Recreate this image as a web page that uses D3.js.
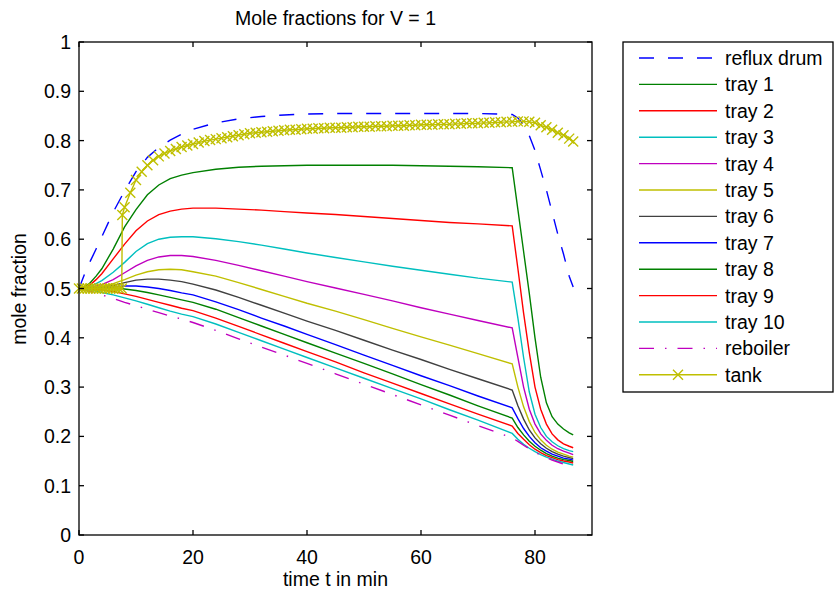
<!DOCTYPE html><meta charset="utf-8">
<style>*{margin:0}body{background:#fff}text{font-family:"Liberation Sans",Arial,sans-serif;fill:#000}</style>
<svg width="834" height="595"></svg>
<script src="https://d3js.org/d3.v7.min.js"></script>
<script>
// sample times (min) for the column profiles
const time = [0,1,2,3,4,6,8,10,12,14,16,18,20,24,28,32,36,40,45,50,55,60,65,70,76,77,78,79,80,81,82,83,84,85,86,86.7];

const refluxDrum = [0.5,0.53,0.556,0.58,0.605,0.655,0.698,0.737,0.766,0.786,0.801,0.813,0.823,
  0.836,0.844,0.849,0.852,0.854,0.855,0.855,0.855,0.855,0.855,0.855,0.853,
  0.846,0.832,0.81,0.78,0.74,0.70,0.655,0.61,0.57,0.525,0.503];
const tray1 = [0.5,0.503,0.512,0.525,0.54,0.58,0.625,0.66,0.69,0.71,0.723,0.73,0.735,
  0.742,0.746,0.748,0.749,0.75,0.75,0.75,0.75,0.749,0.748,0.747,0.745,
  0.66,0.575,0.49,0.40,0.32,0.268,0.24,0.225,0.215,0.207,0.203];
const tray2 = [0.5,0.502,0.508,0.518,0.53,0.56,0.59,0.617,0.637,0.65,0.657,0.661,0.663,
  0.663,0.661,0.659,0.656,0.653,0.65,0.646,0.642,0.638,0.634,0.631,0.627,
  0.54,0.45,0.37,0.30,0.255,0.225,0.205,0.193,0.185,0.18,0.177];
const tray3 = [0.5,0.501,0.504,0.51,0.516,0.533,0.553,0.575,0.591,0.6,0.604,0.605,0.605,
  0.601,0.595,0.588,0.58,0.572,0.563,0.554,0.545,0.537,0.529,0.521,0.513,
  0.44,0.36,0.29,0.245,0.218,0.2,0.189,0.181,0.175,0.171,0.169];
const tray4 = [0.5,0.5,0.502,0.505,0.508,0.518,0.532,0.546,0.557,0.564,0.567,0.567,0.565,
  0.557,0.547,0.536,0.525,0.514,0.501,0.488,0.475,0.461,0.448,0.435,0.42,
  0.36,0.30,0.255,0.225,0.205,0.192,0.182,0.175,0.17,0.166,0.163];
const tray5 = [0.5,0.5,0.501,0.502,0.504,0.51,0.518,0.527,0.534,0.538,0.539,0.538,0.534,
  0.525,0.512,0.498,0.484,0.47,0.454,0.437,0.419,0.402,0.385,0.368,0.347,
  0.30,0.26,0.23,0.208,0.193,0.182,0.174,0.168,0.164,0.16,0.158];
const tray6 = [0.5,0.5,0.5,0.501,0.502,0.506,0.512,0.517,0.519,0.519,0.517,0.514,0.509,
  0.497,0.482,0.466,0.45,0.434,0.415,0.395,0.375,0.356,0.336,0.317,0.294,
  0.262,0.235,0.213,0.197,0.185,0.176,0.169,0.164,0.16,0.157,0.155];
const tray7 = [0.5,0.5,0.5,0.5,0.501,0.503,0.505,0.505,0.503,0.5,0.496,0.491,0.487,
  0.473,0.457,0.44,0.424,0.407,0.386,0.365,0.344,0.323,0.303,0.282,0.258,
  0.236,0.216,0.2,0.187,0.177,0.17,0.164,0.16,0.156,0.154,0.152];
const tray8 = [0.5,0.5,0.5,0.5,0.5,0.5,0.499,0.496,0.492,0.487,0.482,0.477,0.472,
  0.458,0.441,0.424,0.407,0.39,0.369,0.348,0.327,0.305,0.284,0.262,0.237,
  0.218,0.203,0.19,0.18,0.172,0.165,0.16,0.156,0.153,0.151,0.149];
const tray9 = [0.5,0.5,0.499,0.498,0.497,0.494,0.489,0.484,0.478,0.472,0.466,0.46,0.455,
  0.44,0.423,0.406,0.389,0.372,0.351,0.329,0.308,0.287,0.266,0.245,0.221,
  0.206,0.194,0.183,0.174,0.167,0.161,0.157,0.153,0.15,0.148,0.146];
const tray10 = [0.5,0.499,0.497,0.495,0.492,0.487,0.481,0.475,0.468,0.461,0.454,0.448,0.443,
  0.428,0.411,0.394,0.377,0.36,0.339,0.318,0.297,0.276,0.254,0.233,0.206,
  0.194,0.184,0.176,0.169,0.163,0.158,0.154,0.15,0.147,0.144,0.142];
const reboiler = [0.5,0.497,0.494,0.49,0.487,0.48,0.472,0.465,0.458,0.451,0.444,0.438,0.431,
  0.415,0.398,0.381,0.365,0.348,0.327,0.306,0.285,0.264,0.243,0.222,0.197,
  0.19,0.182,0.175,0.168,0.162,0.157,0.152,0.148,0.144,0.14,0.137];

// tank has its own (denser) sample times
const tankTime = [0,0.5,1,1.5,2,2.5,3,3.5,4,4.5,5,5.5,6,6.5,7,7.5,7.6,
  8,9,10,11,12,13,14,15,16,17,18,19,20,21,22,23,24,25,26,27,28,29,30,31,32,33,34,35,36,37,38,39,40,
  41,42,43,44,45,46,47,48,49,50,51,52,53,54,55,56,57,58,59,60,
  61,62,63,64,65,66,67,68,69,70,71,72,73,74,75,76,
  77,78,79,80,81,82,83,84,85,86,86.7];
const tank = [0.5,0.5,0.5,0.5,0.5,0.5,0.5,0.5,0.5,0.5,0.5,0.5,0.5,0.5,0.5,0.5,0.649,
  0.665,0.694,0.72,0.737,0.75,0.76,0.768,0.774,0.779,0.783,0.787,0.79,0.793,0.796,0.799,
  0.801,0.803,0.805,0.807,0.809,0.811,0.813,0.815,0.816,0.817,0.818,0.819,0.82,0.821,0.822,0.822,0.823,0.824,
  0.824,0.825,0.825,0.826,0.826,0.826,0.827,0.827,0.828,0.828,
  0.828,0.829,0.829,0.829,0.83,0.83,0.83,0.831,0.831,0.832,
  0.832,0.832,0.833,0.833,0.833,0.834,0.834,0.835,0.835,0.835,
  0.836,0.836,0.837,0.837,0.838,0.838,
  0.839,0.839,0.838,0.836,0.831,0.827,0.822,0.816,0.811,0.804,0.798];

const seriesNames = ["reflux drum","tray 1","tray 2","tray 3","tray 4","tray 5","tray 6",
  "tray 7","tray 8","tray 9","tray 10","reboiler","tank"];
const xTicks = [0,20,40,60,80];
const yTicks = [0,0.1,0.2,0.3,0.4,0.5,0.6,0.7,0.8,0.9,1];
const yTickLabels = ["0","0.1","0.2","0.3","0.4","0.5","0.6","0.7","0.8","0.9","1"];

const series = [
  {name:seriesNames[0], t:time, v:refluxDrum, color:"#0000ff", dash:"15,14"},
  {name:seriesNames[1], t:time, v:tray1, color:"#008000"},
  {name:seriesNames[2], t:time, v:tray2, color:"#ff0000"},
  {name:seriesNames[3], t:time, v:tray3, color:"#00bfbf"},
  {name:seriesNames[4], t:time, v:tray4, color:"#bf00bf"},
  {name:seriesNames[5], t:time, v:tray5, color:"#bfbf00"},
  {name:seriesNames[6], t:time, v:tray6, color:"#404040"},
  {name:seriesNames[7], t:time, v:tray7, color:"#0000ff"},
  {name:seriesNames[8], t:time, v:tray8, color:"#008000"},
  {name:seriesNames[9], t:time, v:tray9, color:"#ff0000"},
  {name:seriesNames[10], t:time, v:tray10, color:"#00bfbf"},
  {name:seriesNames[11], t:time, v:reboiler, color:"#bf00bf", dash:"15,11,1.5,11"},
  {name:seriesNames[12], t:tankTime, v:tank, color:"#bfbf00", marker:true}
];

const svg = d3.select("svg"),
      x = d3.scaleLinear().domain([0,90]).range([79,592]),
      y = d3.scaleLinear().domain([0,1]).range([535,42]);

const line = d3.line().x(d=>x(d[0])).y(d=>y(d[1]));
const cross = (g, cx, cy, c) => {
  const s = 5;
  g.append("path").attr("d",`M${cx-s},${cy-s}L${cx+s},${cy+s}M${cx-s},${cy+s}L${cx+s},${cy-s}`)
   .attr("stroke",c).attr("stroke-width",1.4).attr("fill","none");
};

// curves
const plot = svg.append("g");
series.forEach(s=>{
  const pts = s.t.map((t,i)=>[t,s.v[i]]);
  plot.append("path").attr("d",line(pts)).attr("fill","none")
      .attr("stroke",s.color).attr("stroke-width",1.4)
      .attr("stroke-dasharray",s.dash||null);
  if(s.marker) pts.forEach(p=>cross(plot,x(p[0]),y(p[1]),s.color));
});

// axes box with inward ticks
const ax = svg.append("g").attr("stroke","#000").attr("stroke-width",1.3);
ax.append("rect").attr("x",79).attr("y",42).attr("width",513).attr("height",493).attr("fill","none");
xTicks.forEach(t=>{
  ax.append("line").attr("x1",x(t)).attr("x2",x(t)).attr("y1",535).attr("y2",530);
  ax.append("line").attr("x1",x(t)).attr("x2",x(t)).attr("y1",42).attr("y2",47);
  svg.append("text").attr("x",x(t)).attr("y",564).attr("text-anchor","middle")
     .attr("font-size",19.5).text(t);
});
yTicks.forEach((t,i)=>{
  ax.append("line").attr("x1",79).attr("x2",84).attr("y1",y(t)).attr("y2",y(t));
  ax.append("line").attr("x1",592).attr("x2",587).attr("y1",y(t)).attr("y2",y(t));
  svg.append("text").attr("x",71).attr("y",y(t)).attr("dy","0.36em").attr("text-anchor","end")
     .attr("font-size",19.5).text(yTickLabels[i]);
});

svg.append("text").attr("x",335.5).attr("y",25).attr("text-anchor","middle")
   .attr("font-size",19.5).text("Mole fractions for V = 1");
svg.append("text").attr("x",335.5).attr("y",586).attr("text-anchor","middle")
   .attr("font-size",19.5).text("time t in min");
svg.append("text").attr("transform","translate(26,289) rotate(-90)").attr("text-anchor","middle")
   .attr("font-size",19.5).text("mole fraction");

// legend
const lg = svg.append("g");
lg.append("rect").attr("x",623).attr("y",42).attr("width",210).attr("height",350)
  .attr("fill","#fff").attr("stroke","#000").attr("stroke-width",1.3);
series.forEach((s,i)=>{
  const ly = 58 + i*26.4;
  lg.append("line").attr("x1",639).attr("x2",717).attr("y1",ly).attr("y2",ly)
    .attr("stroke",s.color).attr("stroke-width",1.4).attr("stroke-dasharray",s.dash||null);
  if(s.marker) cross(lg,678,ly,s.color);
  lg.append("text").attr("x",725).attr("y",ly).attr("dy","0.36em")
    .attr("font-size",19.5).text(s.name);
});
</script>
